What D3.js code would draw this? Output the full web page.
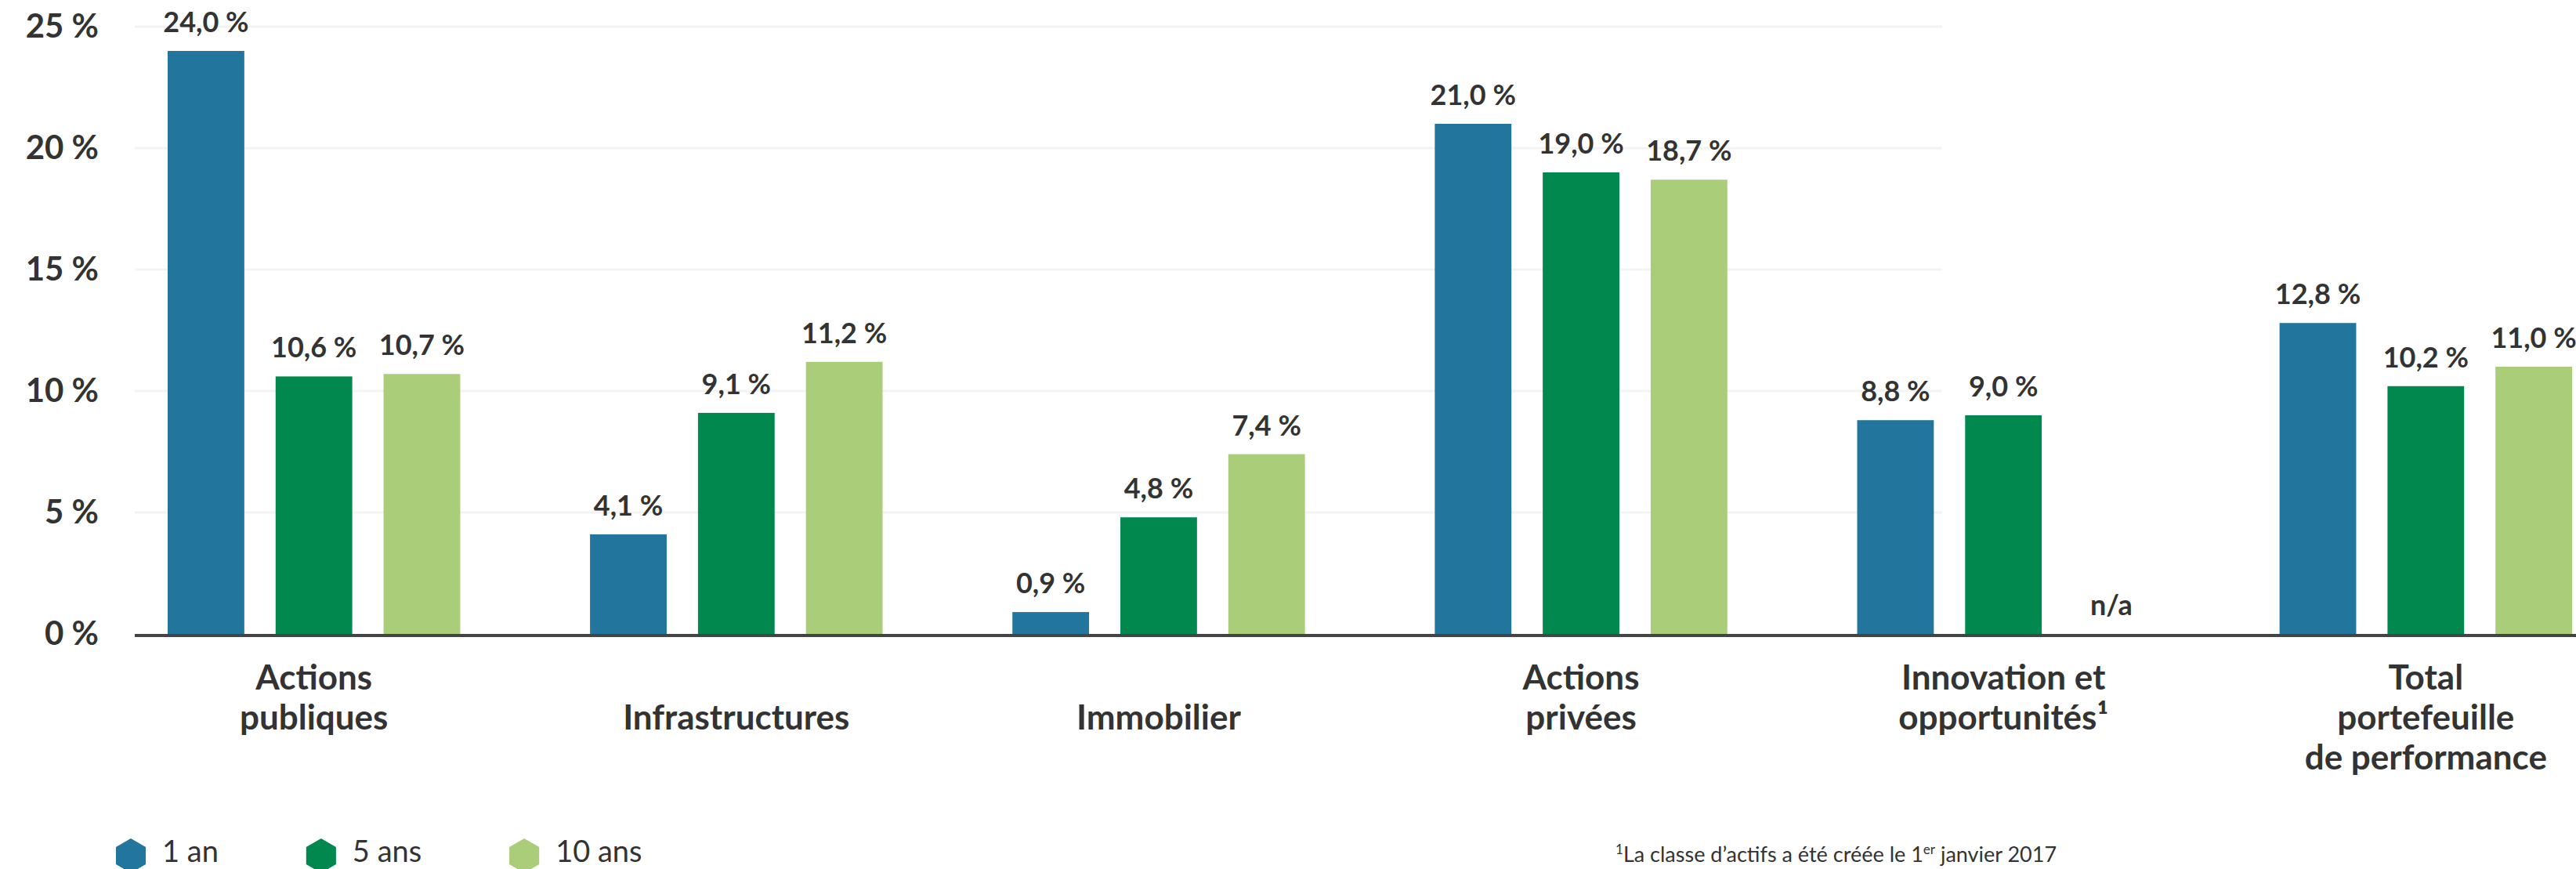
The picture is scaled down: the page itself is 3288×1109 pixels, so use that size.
<!DOCTYPE html>
<html>
<head>
<meta charset="utf-8">
<script src="https://cdn.jsdelivr.net/npm/d3@7"></script>
<style>
  body { margin: 0; background: #fff; }
  text { font-family: Lato, 'Open Sans', sans-serif; fill: #333; }
</style>
</head>
<body>
<div id="chart"></div>
<script>
// chart data
const categories = ['Actions publiques', 'Infrastructures', 'Immobilier', 'Actions privées',
  'Innovation et opportunités', 'Total portefeuille de performance'];
const categoryLines = [
  ['Actions', 'publiques'],
  ['Infrastructures'],
  ['Immobilier'],
  ['Actions', 'privées'],
  ['Innovation et', 'opportunités¹'],
  ['Total', 'portefeuille', 'de performance'],
];
const series = ['1 an', '5 ans', '10 ans'];
const oneYear = [24.0, 4.1, 0.9, 21.0, 8.8, 12.8];
const fiveYears = [10.6, 9.1, 4.8, 19.0, 9.0, 10.2];
const tenYears = [10.7, 11.2, 7.4, 18.7, null, 11.0];
const yTicks = [0, 5, 10, 15, 20, 25];
const colors = ['#22759d', '#00884f', '#a9cd79'];

const width = 3288;
const height = 1109;

const svg = d3.select('#chart')
  .append('svg')
  .attr('width', width)
  .attr('height', height);

const x0 = d3.scaleBand()
  .domain(categories)
  .range([214, 3283])
  .paddingInner(0.3074)
  .paddingOuter(0);

const x1 = d3.scaleBand()
  .domain(series)
  .range([0, x0.bandwidth()])
  .paddingInner(0.29)
  .paddingOuter(0);

const y = d3.scaleLinear()
  .domain([0, 25])
  .range([809, 34]);

const color = d3.scaleOrdinal().domain(series).range(colors);

// light gridlines (they stop before the last group)
svg.append('g')
  .selectAll('line')
  .data(yTicks.filter(t => t > 0))
  .enter()
  .append('line')
  .attr('x1', 172)
  .attr('x2', 2479)
  .attr('y1', d => y(d))
  .attr('y2', d => y(d))
  .attr('stroke', '#f3f3f3')
  .attr('stroke-width', 3);

// y axis labels
const yAxis = svg.append('g')
  .attr('transform', 'translate(126,0)')
  .call(d3.axisLeft(y)
    .tickValues(yTicks)
    .tickSize(0)
    .tickPadding(0)
    .tickFormat(d => `${d} %`));
yAxis.select('.domain').remove();
yAxis.selectAll('text')
  .style('font-family', 'Lato, sans-serif')
  .style('font-size', '42px')
  .style('font-weight', 700)
  .attr('fill', '#333');

const rows = categories.map((c, i) => ({
  category: c,
  values: [oneYear[i], fiveYears[i], tenYears[i]].map((v, j) => ({ key: series[j], value: v })),
}));

const groups = svg.append('g')
  .selectAll('g')
  .data(rows)
  .enter()
  .append('g')
  .attr('transform', d => `translate(${x0(d.category)},0)`);

groups.selectAll('rect')
  .data(d => d.values.filter(v => v.value !== null))
  .enter()
  .append('rect')
  .attr('x', d => x1(d.key))
  .attr('width', x1.bandwidth())
  .attr('y', d => y(d.value))
  .attr('height', d => y(0) - y(d.value))
  .attr('fill', d => color(d.key));

groups.selectAll('text.value')
  .data(d => d.values)
  .enter()
  .append('text')
  .attr('class', 'value')
  .attr('x', d => x1(d.key) + x1.bandwidth() / 2)
  .attr('y', d => y(d.value === null ? 0 : d.value) - 24)
  .attr('text-anchor', 'middle')
  .style('font-size', '36px')
  .style('font-weight', 700)
  .text(d => (d.value === null ? 'n/a' : `${d.value.toFixed(1).replace('.', ',')} %`));

// baseline
svg.append('line')
  .attr('x1', 172)
  .attr('x2', width)
  .attr('y1', y(0) + 2)
  .attr('y2', y(0) + 2)
  .attr('stroke', '#444')
  .attr('stroke-width', 4);

// category labels
const catLabels = svg.append('g')
  .selectAll('text')
  .data(categories)
  .enter()
  .append('text')
  .attr('text-anchor', 'middle')
  .style('font-size', '44px')
  .style('font-weight', 700);

catLabels.selectAll('tspan')
  .data((d, i) => {
    const lines = categoryLines[i];
    const start = lines.length === 1 ? 1 : 0;
    return lines.map((l, k) => ({ text: l, row: k + start, cx: x0(d) + x0.bandwidth() / 2 }));
  })
  .enter()
  .append('tspan')
  .attr('x', d => d.cx)
  .attr('y', d => 880 + d.row * 51)
  .text(d => d.text);

// legend
const legend = svg.append('g');
let lx = 148;
series.forEach((s, i) => {
  const r = 22;
  const cx = lx + 19;
  const cy = 1092;
  const pts = d3.range(6).map(k => {
    const a = (Math.PI / 3) * k - Math.PI / 2;
    return [cx + r * Math.cos(a), cy + r * Math.sin(a)];
  });
  legend.append('path')
    .attr('d', `M${pts.join('L')}Z`)
    .attr('fill', colors[i]);
  const t = legend.append('text')
    .attr('x', lx + 59)
    .attr('y', 1100)
    .style('font-size', '38px')
    .style('font-weight', 400)
    .text(s);
  lx = lx + 59 + t.node().getComputedTextLength() + 112;
});

// footnote
const note = svg.append('text')
  .attr('x', 2062)
  .attr('y', 1100)
  .style('font-size', '27px')
  .style('font-weight', 400);
note.append('tspan').attr('baseline-shift', 'super').style('font-size', '17px').text('1');
note.append('tspan').text('La classe d’actifs a été créée le 1');
note.append('tspan').attr('baseline-shift', 'super').style('font-size', '17px').text('er');
note.append('tspan').text(' janvier 2017');
</script>
</body>
</html>
